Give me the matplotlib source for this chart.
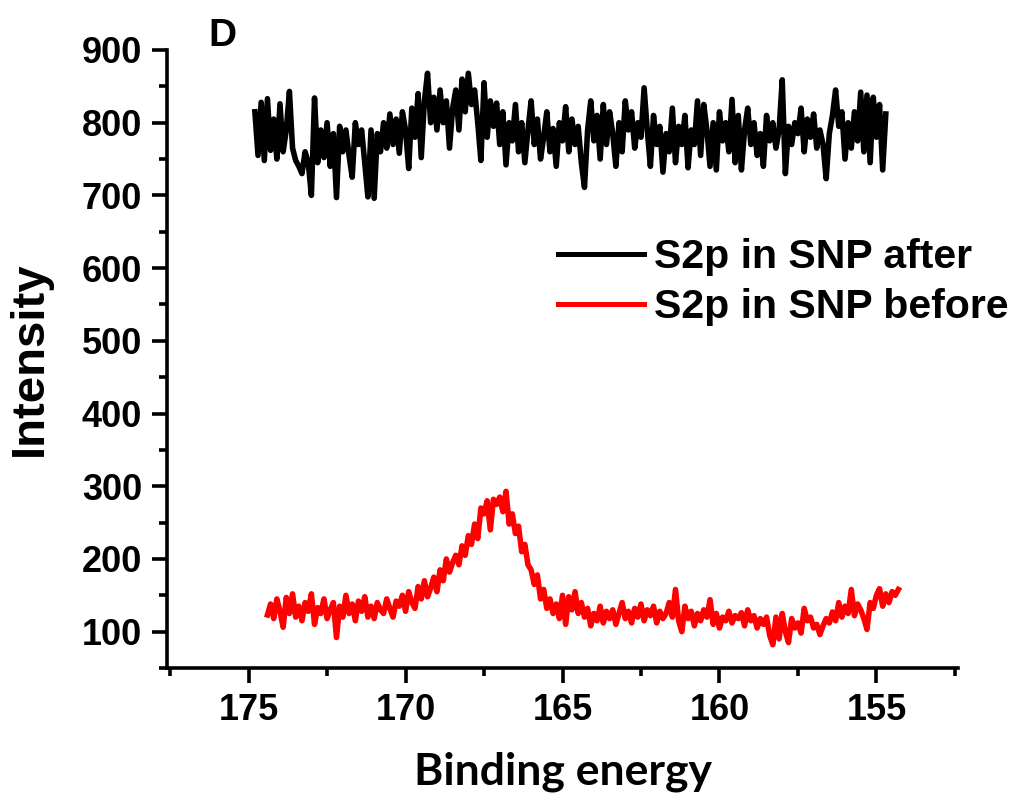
import numpy as np
import matplotlib
matplotlib.use('Agg')
import matplotlib.pyplot as plt
from matplotlib.ticker import MultipleLocator

# S2p after: binding energy grid 174.8 -> 154.7 eV, 0.1 eV step
after_start, after_stop = 174.8, 154.7
after_counts = [
    815, 755, 828, 748, 833, 762, 805, 750, 826, 760,
    790, 843, 765, 748, 740, 730, 760, 745, 700, 834,
    745, 790, 752, 800, 740, 785, 697, 795, 760, 790,
    755, 725, 800, 770, 790, 745, 698, 790, 696, 785,
    760, 800, 765, 812, 770, 805, 758, 815, 790, 737,
    820, 780, 840, 752, 830, 868, 800, 835, 790, 845,
    800, 830, 765, 820, 845, 790, 860, 815, 868, 825,
    845, 800, 748, 855, 780, 830, 795, 827, 770, 815,
    742, 800, 775, 825, 760, 800, 745, 790, 830, 770,
    805, 750, 780, 815, 760, 792, 740, 800, 775, 822,
    760, 805, 770, 795, 745, 711, 790, 830, 775, 810,
    750, 825, 770, 815, 785, 740, 800, 760, 830, 790,
    815, 765, 800, 780, 848, 790, 740, 810, 770, 795,
    732, 785, 760, 820, 745, 795, 770, 810, 738, 790,
    770, 830, 755, 825, 790, 740, 800, 735, 815, 775,
    800, 760, 832, 745, 810, 735, 790, 820, 770, 800,
    755, 785, 740, 810, 775, 800, 765, 790, 859, 730,
    795, 770, 800, 785, 820, 760, 805, 780, 812, 765,
    790, 770, 723, 785, 810, 845, 795, 815, 750, 800,
    765, 815, 775, 842, 760, 838, 745, 835, 780, 825,
    735, 812,
]

# S2p before: binding energy grid 174.4 -> 154.3 eV, 0.1 eV step
before_start, before_stop = 174.4, 154.3
before_counts = [
    123, 138, 118, 145, 128, 106, 147, 125, 152, 120,
    135, 115, 140, 128, 152, 110, 133, 125, 145, 118,
    130, 140, 92, 135, 120, 150, 125, 138, 115, 142,
    128, 148, 120, 135, 118, 140, 130, 125, 145, 132,
    120, 142, 135, 150, 128, 155, 140, 132, 162, 145,
    170, 148, 160, 175, 155, 185, 170, 200, 182, 195,
    205, 192, 218, 205, 232, 220, 248, 228, 270, 262,
    280, 240, 282, 275, 285, 265, 293, 248, 262, 235,
    245, 210, 220, 192, 185, 165, 178, 145, 158, 132,
    145, 125, 138, 118, 150, 110, 148, 130, 155, 125,
    140, 120, 132, 108, 125, 115, 135, 112, 128, 118,
    130, 110, 125, 140, 118, 128, 112, 132, 120, 138,
    115, 130, 122, 135, 112, 128, 118, 125, 140, 120,
    158, 115, 100, 135, 118, 128, 108, 125, 115, 130,
    120, 144, 110, 125, 105, 120, 115, 128, 112, 122,
    118, 126, 108, 130, 115, 122, 105, 118, 110, 120,
    95, 82, 120, 90, 125, 100, 85, 118, 105, 112,
    98, 132, 115, 120, 105, 110, 96, 108, 118, 112,
    127, 115, 140, 120, 135, 125, 158, 122, 138, 130,
    118, 103, 140, 132, 150, 159, 135, 152, 140, 155,
    150, 158,
]

labels = ["S2p in SNP after", "S2p in SNP before"]
colors = ["black", "red"]

x_after = np.linspace(after_start, after_stop, len(after_counts))
x_before = np.linspace(before_start, before_stop, len(before_counts))

fig = plt.figure(figsize=(10.17, 7.96), dpi=100)
ax = fig.add_axes([0.1642, 0.1608, 0.7778, 0.7764])

ax.plot(x_after, after_counts, color=colors[0], lw=4, label=labels[0])
ax.plot(x_before, before_counts, color=colors[1], lw=4, label=labels[1])

ax.set_xlim(177.6, 152.4)
ax.set_ylim(50, 900)
ax.xaxis.set_major_locator(MultipleLocator(5))
ax.xaxis.set_minor_locator(MultipleLocator(2.5))
ax.yaxis.set_major_locator(MultipleLocator(100))
ax.yaxis.set_minor_locator(MultipleLocator(50))
ax.set_yticks(range(100, 1000, 100))

for side in ['top', 'right']:
    ax.spines[side].set_visible(False)
for side in ['left', 'bottom']:
    ax.spines[side].set_linewidth(2.6)

ax.tick_params(which='major', direction='out', length=11, width=2.6, pad=7)
ax.tick_params(which='minor', direction='out', length=6, width=2.6)
for lab in ax.get_xticklabels() + ax.get_yticklabels():
    lab.set_fontfamily('Liberation Sans')
    lab.set_fontweight('bold')
    lab.set_fontsize(26)

ax.set_xlabel("Binding energy", fontsize=32, fontweight='bold', family='Lato')
ax.xaxis.set_label_coords(0.5, -0.135)
ax.set_ylabel("Intensity", fontsize=34, fontweight='bold', family='Liberation Sans')
ax.yaxis.set_label_coords(-0.145, 0.5)

leg = ax.legend(loc='upper left', bbox_to_anchor=(0.494, 0.695), frameon=False,
                prop={'family': 'Liberation Sans', 'weight': 'bold', 'size': 29.5},
                handlelength=2.1, handletextpad=0.25, labelspacing=0.28,
                borderaxespad=0, borderpad=0)
for line in leg.get_lines():
    line.set_linewidth(3.6)

fig.text(222 / 1017, 1 - 36 / 796, "D", fontsize=28, fontweight='bold',
         family='Liberation Sans', ha='center', va='center')

fig.savefig("out.png", dpi=100)
